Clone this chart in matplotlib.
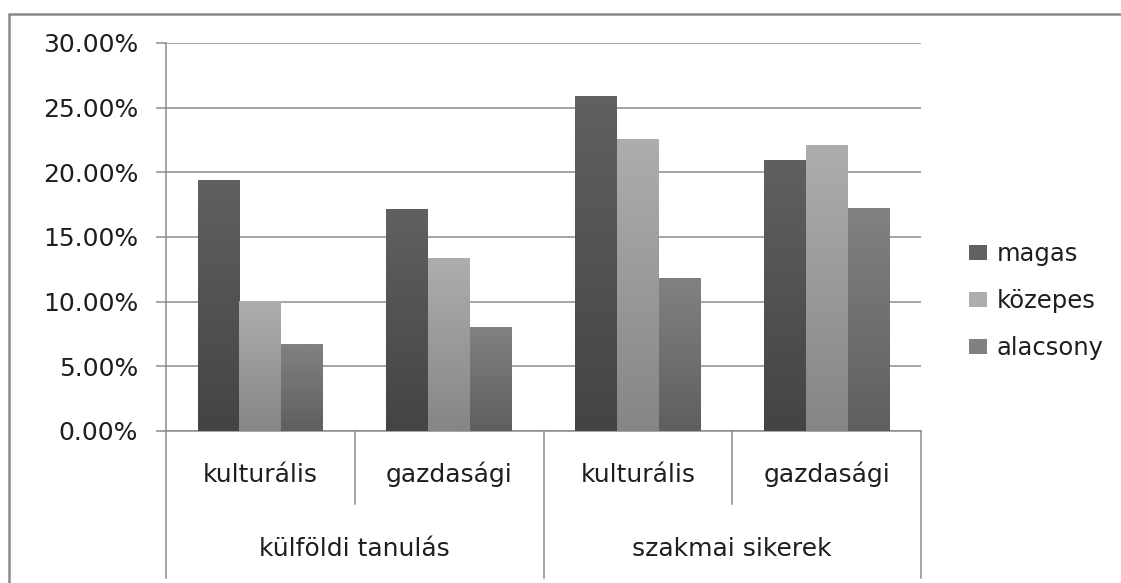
import numpy as np
import matplotlib
matplotlib.use("Agg")
import matplotlib.pyplot as plt
from matplotlib.patches import Rectangle, Patch
from matplotlib.ticker import PercentFormatter, MultipleLocator
from matplotlib.colors import LinearSegmentedColormap
import matplotlib.transforms as mtransforms

# adatok
kategoriak = ["kulturális", "gazdasági", "kulturális", "gazdasági"]
fo_kategoriak = ["külföldi tanulás", "szakmai sikerek"]
sorozatok = ["magas", "közepes", "alacsony"]
magas = [0.194, 0.171, 0.259, 0.209]
kozepes = [0.100, 0.133, 0.225, 0.221]
alacsony = [0.067, 0.080, 0.118, 0.172]

# szinek (felso, also) a szinatmenethez
szinek = [("#606060", "#444444"), ("#adadad", "#868686"), ("#818181", "#5f5f5f")]

def main():
  plt.rcParams["font.family"] = ["DejaVu Sans"]
  fs_y = 18
  fs_kat = 18
  fs_leg = 17.5
  txt_col = "#1e1e1e"
  grid_col = "#8c8c8c"

  fig = plt.figure(figsize=(11.21, 5.83), dpi=100)
  ax = fig.add_axes([166 / 1121, 1 - 431 / 583, 755 / 1121, 388 / 583])

  # kulso keret
  fig.patches.append(Rectangle((8.5 / 1121, -0.1), 1.2, 1 - 13.5 / 583 + 0.1,
                               transform=fig.transFigure, fill=False,
                               edgecolor="#8a8a8a", lw=1.8))

  x = np.arange(len(kategoriak))
  w = 0.222
  adatok = [magas, kozepes, alacsony]
  for k, (ertekek, nev) in enumerate(zip(adatok, sorozatok)):
    top, bot = szinek[k]
    cmap = LinearSegmentedColormap.from_list(nev, [bot, top])
    bars = ax.bar(x + (k - 1) * w, ertekek, w, color=top, label=nev,
                  linewidth=0, zorder=2)
    for b in bars:
      x0, y0 = b.get_x(), b.get_y()
      grad = np.linspace(0, 1, 64).reshape(-1, 1)
      ax.imshow(grad, extent=[x0, x0 + b.get_width(), y0, y0 + b.get_height()],
                origin="lower", cmap=cmap, aspect="auto", zorder=3,
                interpolation="bilinear")

  ax.set_xlim(-0.5, len(kategoriak) - 0.5)
  ax.set_ylim(0, 0.30)
  ax.yaxis.set_major_locator(MultipleLocator(0.05))
  ax.yaxis.set_major_formatter(PercentFormatter(xmax=1, decimals=2))
  ax.grid(axis="y", color=grid_col, lw=1.1, zorder=0)
  ax.set_axisbelow(True)

  for s in ["top", "right"]:
    ax.spines[s].set_visible(False)
  for s in ["left", "bottom"]:
    ax.spines[s].set_color(grid_col)
    ax.spines[s].set_linewidth(1.1)
  ax.tick_params(axis="y", length=7, width=1.1, color=grid_col, pad=13,
                 labelsize=fs_y, labelcolor=txt_col)
  ax.set_xticks([])

  # ketszintu kategoria tengely
  trans = mtransforms.blended_transform_factory(ax.transData, ax.transAxes)
  for i, kat in enumerate(kategoriak):
    ax.text(i, -0.131, kat, transform=trans, ha="center", va="baseline",
            fontsize=fs_kat, color=txt_col)
  for i, fk in enumerate(fo_kategoriak):
    ax.text(2 * i + 0.5, -0.322, fk, transform=trans, ha="center",
            va="baseline", fontsize=fs_kat, color=txt_col)
  for xb in [0.5, 2.5]:
    ax.plot([xb, xb], [0, -0.188], transform=trans, color=grid_col, lw=1.1,
            clip_on=False)
  for xb in [-0.5, 1.5, 3.5]:
    ax.plot([xb, xb], [0, -0.379], transform=trans, color=grid_col, lw=1.1,
            clip_on=False)

  # jelmagyarazat
  handles = [Patch(facecolor=c[0], edgecolor="none") for c in szinek]
  fig.legend(handles, sorozatok, loc="center left",
             bbox_to_anchor=(969 / 1121, 1 - 301 / 583), frameon=False,
             fontsize=fs_leg, labelcolor=txt_col, handlelength=0.75,
             handleheight=0.6, handletextpad=0.4, labelspacing=0.95,
             borderpad=0, borderaxespad=0)

  fig.savefig("out.png", dpi=100)

if __name__ == "__main__":
  main()
